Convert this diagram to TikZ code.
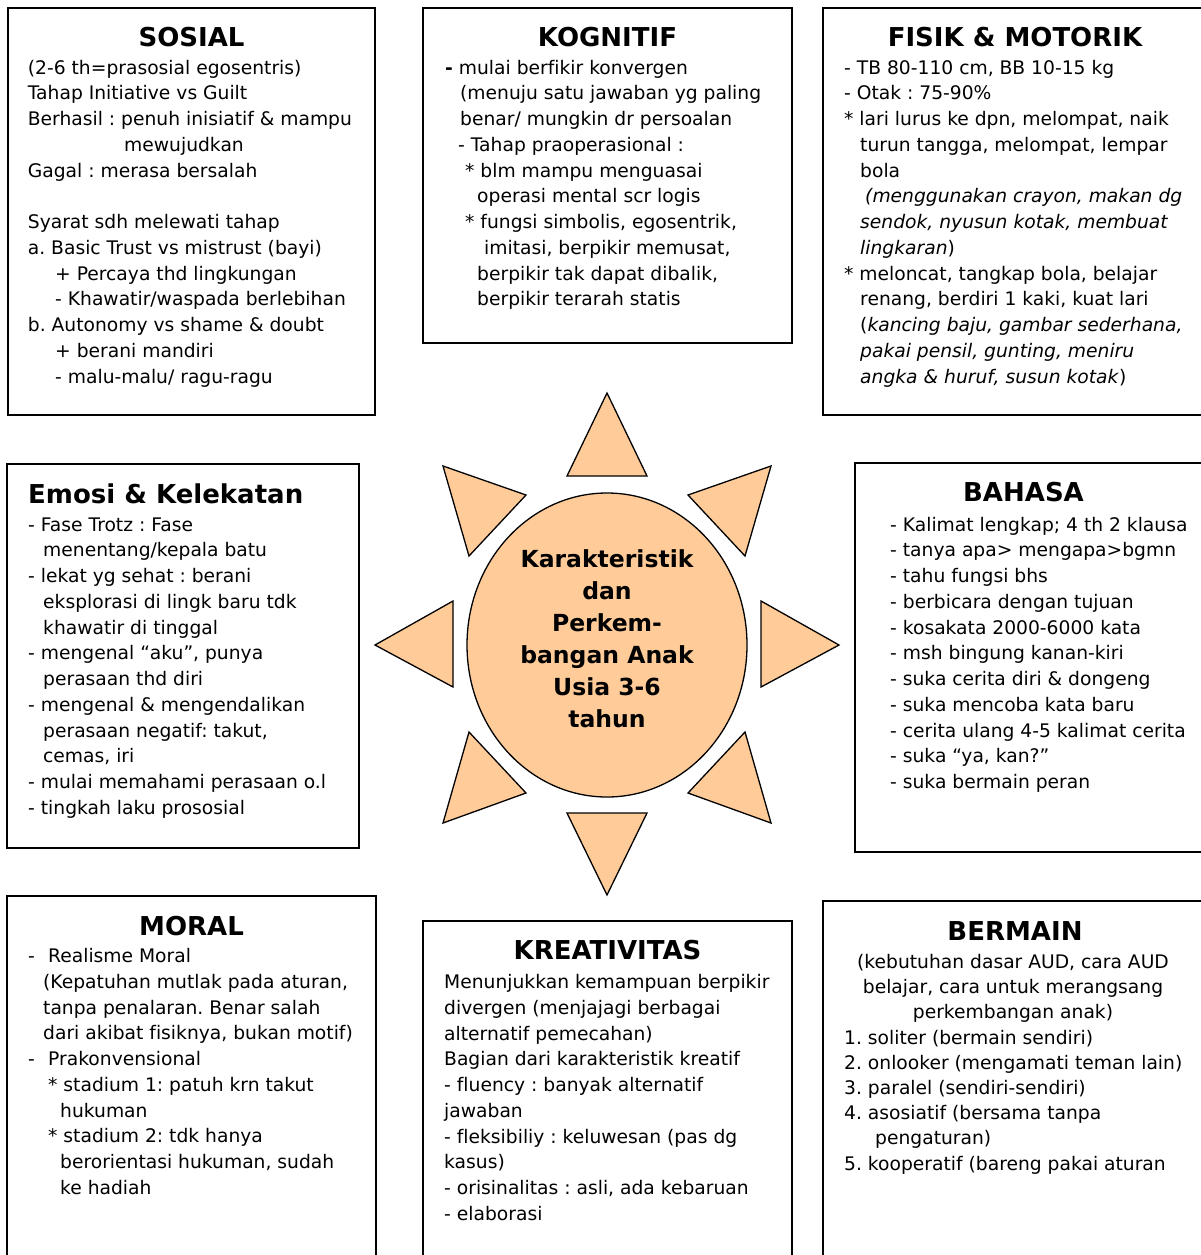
\documentclass[tikz,border=0pt]{standalone}
\usepackage{fontspec}
\setmainfont{DejaVu Sans}[Ligatures={TeX,NoCommon}]
\definecolor{peach}{RGB}{255,204,153}
\newcommand\myind[1]{\hspace*{#1pt}}
\newcommand\dsh{\makebox[20pt][l]{-}}
\frenchspacing
\begin{document}
\frenchspacing
\begin{tikzpicture}[x=1pt,y=-1pt,
  box/.style={draw=black, line width=1.4pt},
  ttl/.style={font=\fontsize{26}{30}\selectfont\bfseries, anchor=base, inner sep=0},
  ttlw/.style={ttl, anchor=base west},
  txt/.style={font=\fontsize{18.7}{25.75}\selectfont\frenchspacing, anchor=north west, inner sep=0, align=left},
  ray/.style={draw=black, fill=peach, line width=1.3pt, line join=miter},
]
\useasboundingbox (0,0) rectangle (1201,1255);
\fill[white] (0,0) rectangle (1201,1255);
\clip (0,0) rectangle (1201,1255);

% ---------------- boxes
\draw[box] (8,8) rectangle (375,415);
\draw[box] (423,8) rectangle (792,343);
\draw[box] (823,8) rectangle (1210,415);
\draw[box] (7,464) rectangle (359,848);
\draw[box] (855,463) rectangle (1210,852);
\draw[box] (7,896) rectangle (376,1270);
\draw[box] (423,921) rectangle (792,1270);
\draw[box] (823,901) rectangle (1210,1270);

% ---------------- SOSIAL
\node[ttl] (tsos) at (191.5,46.7) {SOSIAL};
\node[txt] (bsos) at (27.7,55.97) {\strut(2-6 th=prasosial egosentris)\\
Tahap Initiative vs Guilt\\
Berhasil : penuh inisiatif \& mampu\\
\myind{96.3}mewujudkan\\
Gagal : merasa bersalah\\
\mbox{}\\
Syarat sdh melewati tahap\\
a. Basic Trust vs mistrust (bayi)\\
\myind{27.3}+ Percaya thd lingkungan\\
\myind{27.3}- Khawatir/waspada berlebihan\\
b. Autonomy vs shame \& doubt\\
\myind{27.3}+ berani mandiri\\
\myind{27.3}- malu-malu/ ragu-ragu};

% ---------------- KOGNITIF
\node[ttl] (tkog) at (607.5,46.7) {KOGNITIF};
\node[txt] (bkog) at (445,55.97) {\strut\textbf{-} mulai berfikir konvergen\\
\myind{15}(menuju satu jawaban yg paling\\
\myind{15}benar/ mungkin dr persoalan\\
\myind{13}- Tahap praoperasional :\\
\myind{20}* blm mampu menguasai\\
\myind{32}operasi mental scr logis\\
\myind{20}* fungsi simbolis, egosentrik,\\
\myind{39}imitasi, berpikir memusat,\\
\myind{32}berpikir tak dapat dibalik,\\
\myind{32}berpikir terarah statis};

% ---------------- FISIK & MOTORIK
\node[ttl] (tfis) at (1015,46.7) {FISIK \& MOTORIK};
\node[txt] (bfis) at (844,55.97) {\strut- TB 80-110 cm, BB 10-15 kg\\
- Otak : 75-90\%\\
* lari lurus ke dpn, melompat, naik\\
\myind{16}turun tangga, melompat, lempar\\
\myind{16}bola\\
\myind{21}\textit{(menggunakan crayon, makan dg}\\
\myind{16}\textit{sendok, nyusun kotak, membuat}\\
\myind{16}\textit{lingkaran})\\
* meloncat, tangkap bola, belajar\\
\myind{16}renang, berdiri 1 kaki, kuat lari\\
\myind{16}(\textit{kancing baju, gambar sederhana,}\\
\myind{16}\textit{pakai pensil, gunting, meniru}\\
\myind{16}\textit{angka \& huruf, susun kotak})};

% ---------------- EMOSI
\node[ttlw] (temo) at (28,503) {Emosi \& Kelekatan};
\node[txt] (bemo) at (28,512.97) {\strut- Fase Trotz : Fase\\
\myind{15}menentang/kepala batu\\
- lekat yg sehat : berani\\
\myind{15}eksplorasi di lingk baru tdk\\
\myind{15}khawatir di tinggal\\
- mengenal “aku”, punya\\
\myind{15}perasaan thd diri\\
- mengenal \& mengendalikan\\
\myind{15}perasaan negatif: takut,\\
\myind{15}cemas, iri\\
- mulai memahami perasaan o.l\\
- tingkah laku prososial};

% ---------------- BAHASA
\node[ttl] (tbah) at (1023.5,501.7) {BAHASA};
\node[txt] (bbah) at (890,512.97) {\strut- Kalimat lengkap; 4 th 2 klausa\\
- tanya apa> mengapa>bgmn\\
- tahu fungsi bhs\\
- berbicara dengan tujuan\\
- kosakata 2000-6000 kata\\
- msh bingung kanan-kiri\\
- suka cerita diri \& dongeng\\
- suka mencoba kata baru\\
- cerita ulang 4-5 kalimat cerita\\
- suka “ya, kan?”\\
- suka bermain peran};

% ---------------- MORAL
\node[ttl] (tmor) at (191.5,935.7) {MORAL};
\node[txt] (bmor) at (28,944.27) {\strut\dsh Realisme Moral\\
\myind{15}(Kepatuhan mutlak pada aturan,\\
\myind{15}tanpa penalaran. Benar salah\\
\myind{15}dari akibat fisiknya, bukan motif)\\
\dsh Prakonvensional\\
\myind{20}* stadium 1: patuh krn takut\\
\myind{32}hukuman\\
\myind{20}* stadium 2: tdk hanya\\
\myind{32}berorientasi hukuman, sudah\\
\myind{32}ke hadiah};

% ---------------- KREATIVITAS
\node[ttl] (tkre) at (607.5,959.3) {KREATIVITAS};
\node[txt] (bkre) at (444,970.27) {\strut Menunjukkan kemampuan berpikir\\
divergen (menjajagi berbagai\\
alternatif pemecahan)\\
Bagian dari karakteristik kreatif\\
- fluency : banyak alternatif\\
jawaban\\
- fleksibiliy : keluwesan (pas dg\\
kasus)\\
- orisinalitas : asli, ada kebaruan\\
- elaborasi};

% ---------------- BERMAIN
\node[ttl] (tber) at (1015,940) {BERMAIN};
\node[txt, font=\fontsize{18.7}{25.2}\selectfont\frenchspacing, anchor=north, align=center] (cber) at (1013,950.6) {\strut(kebutuhan dasar AUD, cara AUD\\
belajar, cara untuk merangsang\\
perkembangan anak)};
\node[txt, font=\fontsize{18.7}{25.2}\selectfont\frenchspacing] (lber) at (844,1026.2) {\strut 1. soliter (bermain sendiri)\\
2. onlooker (mengamati teman lain)\\
3. paralel (sendiri-sendiri)\\
4. asosiatif (bersama tanpa\\
\myind{31}pengaturan)\\
5. kooperatif (bareng pakai aturan};

% ---------------- SUN
\draw[ray] (607,393) -- (647,476) -- (567,476) -- cycle;
\draw[ray] (607,895) -- (647,813) -- (567,813) -- cycle;
\draw[ray] (375,645) -- (453,601) -- (453,687) -- cycle;
\draw[ray] (839,645) -- (761,601) -- (761,687) -- cycle;
\draw[ray] (443,466) -- (526,495) -- (469,556) -- cycle;
\draw[ray] (771,466) -- (688,495) -- (745,556) -- cycle;
\draw[ray] (443,823) -- (526,793) -- (469,732) -- cycle;
\draw[ray] (771,823) -- (688,793) -- (745,732) -- cycle;
\draw[ray] (607,645) ellipse [x radius=140pt, y radius=152pt];
\node[font=\fontsize{23.5}{32}\selectfont\bfseries, anchor=north, inner sep=0, align=center] (sun) at (607,544.6)
 {\strut Karakteristik\\ dan\\ Perkem-\\ bangan Anak\\ Usia 3-6\\ tahun};
\end{tikzpicture}
\end{document}
